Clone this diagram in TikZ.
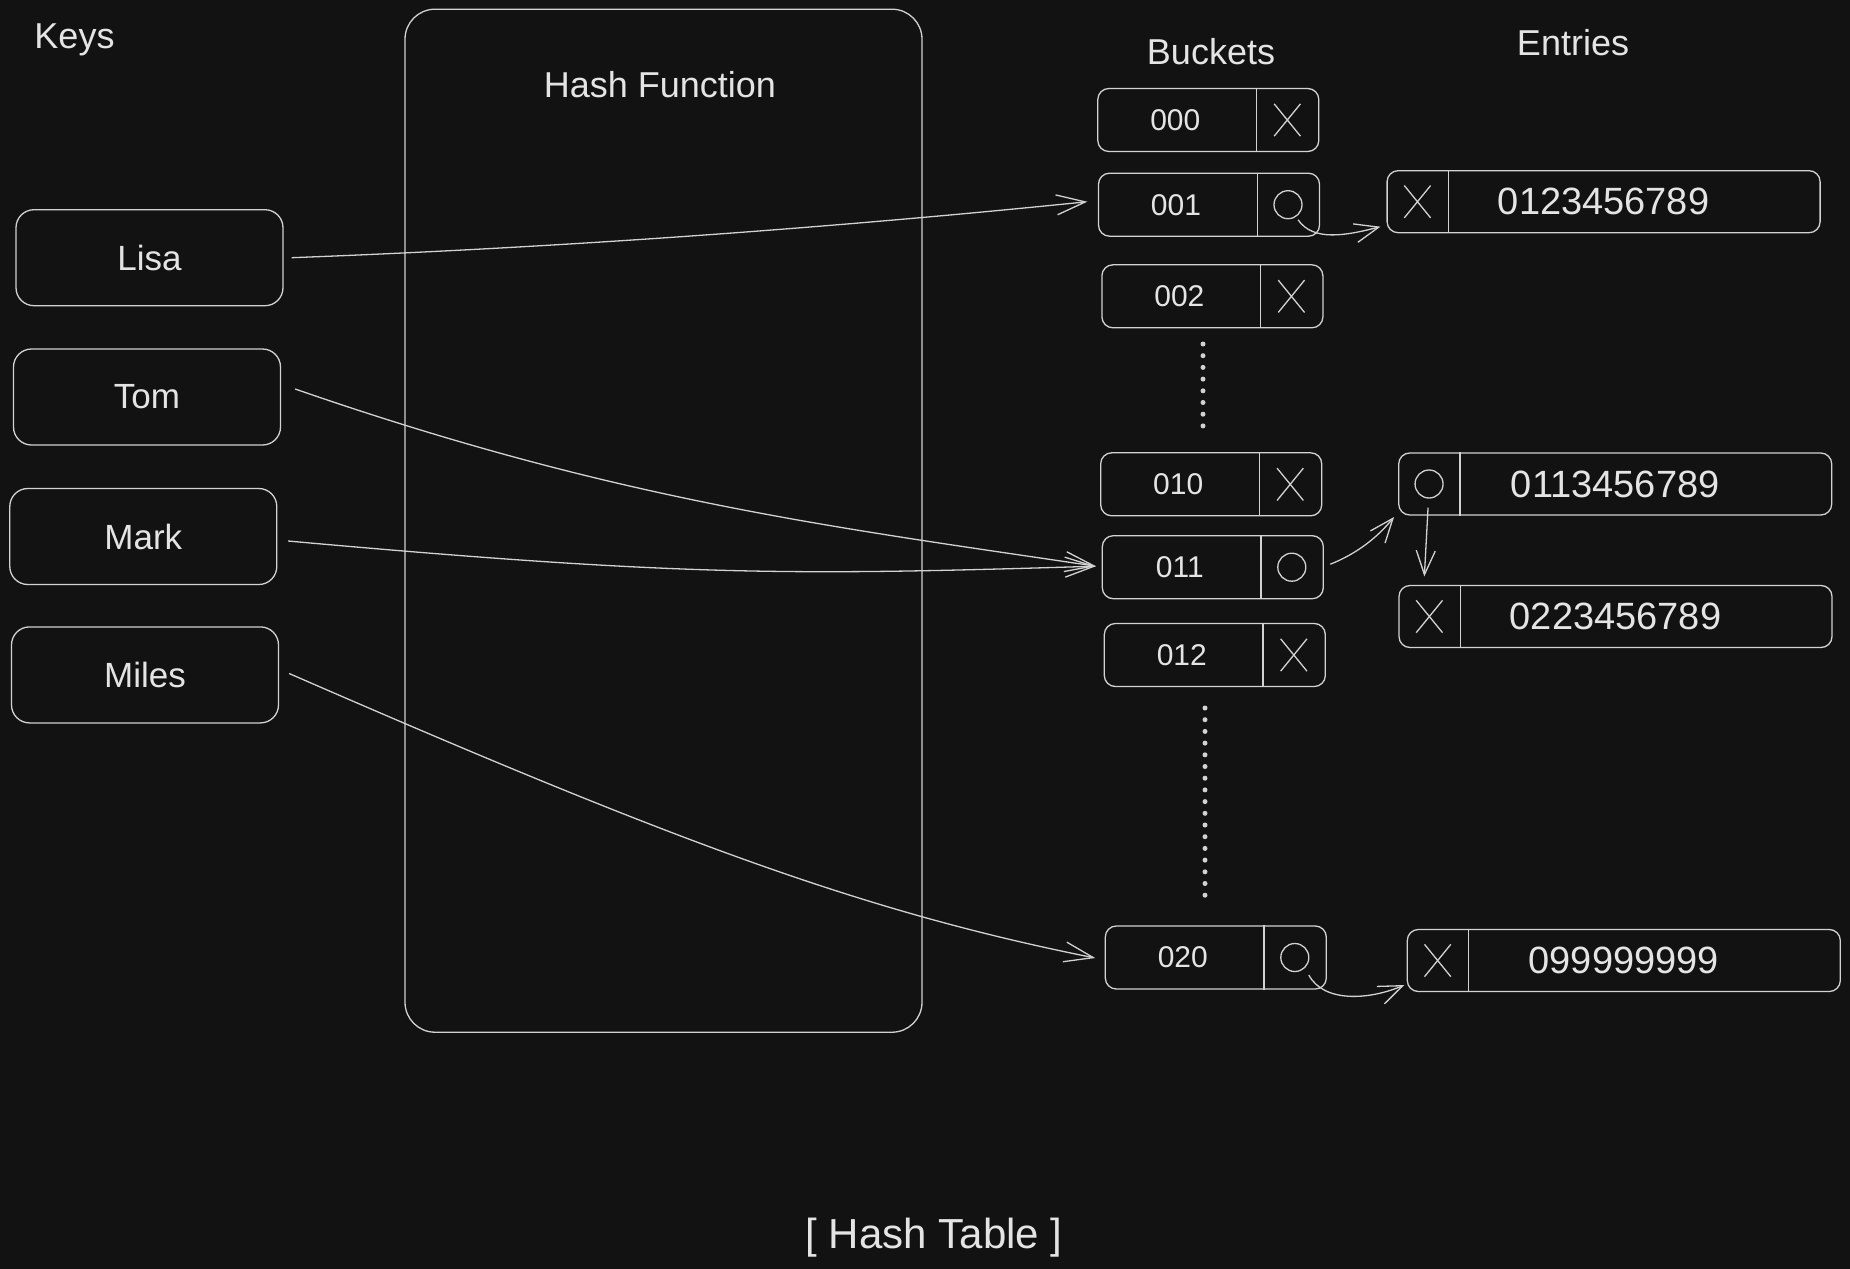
\documentclass[tikz,border=0pt]{standalone}
\usepackage{fontspec}
\setmainfont{Liberation Sans}
\usetikzlibrary{arrows.meta,shapes.misc,calc}
\definecolor{bg}{HTML}{121212}
\definecolor{ink}{HTML}{D2D2D2}
\definecolor{txt}{HTML}{E4E4E4}
\tikzset{
  inkline/.style={draw=ink, line width=1.3pt},
  hdr/.style={text=txt, anchor=base, inner sep=0pt, font=\fontsize{36}{40}\selectfont},
  keybox/.style={inkline, rounded corners=18pt, minimum width=267pt, minimum height=96pt, text=txt, font=\fontsize{35}{39}\selectfont},
  hashbox/.style={inkline, rounded corners=30pt, minimum width=517pt, minimum height=1023pt},
  bucketbox/.style={inkline, rounded corners=11pt, minimum width=221pt, minimum height=63pt, inner sep=0pt},
  btext/.style={text=txt, inner sep=0pt, font=\fontsize{30}{34}\selectfont},
  entrybox/.style={inkline, rounded corners=11pt, minimum width=433pt, minimum height=62pt, inner sep=0pt, text=txt, font=\fontsize{38}{42}\selectfont},
  xmark/.style={inkline, cross out, inner sep=0pt, minimum width=25pt, minimum height=31pt},
  omark/.style={inkline, circle, inner sep=0pt, minimum size=28pt},
  conn/.style={inkline, -{Straight Barb[length=29pt,width=20pt,line width=1.3pt]}},
  sconn/.style={inkline, -{Straight Barb[length=24pt,width=19pt,line width=1.3pt]}},
  dotline/.style={draw=ink, line width=5pt, line cap=round, dash pattern=on 0pt off 11.7pt}
}
\newcommand\mkbucket[5]{%
  \node[bucketbox] (#1) at (#2,#3) {};
  \draw[inkline] ($(#1.north east)+(-63,0)$) -- ($(#1.south east)+(-63,0)$);
  \node[btext] (#1-l) at ($(#1.center)+(-33,0)$) {#4};
  \node[#5] (#1-s) at ($(#1.center)+(79,0)$) {};
}
\newcommand\mkentry[5]{%
  \node[entrybox] (#1) at (#2,#3) {#4};
  \draw[inkline] ($(#1.north west)+(62,0)$) -- ($(#1.south west)+(62,0)$);
  \node[#5] (#1-s) at ($(#1.west)+(31,0)$) {};
}
\begin{document}
\begin{tikzpicture}[x=1pt,y=-1pt]
\useasboundingbox (0,0) rectangle (1850,1269);
\fill[bg] (0,0) rectangle (1850,1269);

% headers
\node[hdr] (hkeys) at (74.5,48) {Keys};
\node[hdr] (hbuckets) at (1211,64) {Buckets};
\node[hdr] (hentries) at (1573,55) {Entries};
\node[hdr, font=\fontsize{42}{46}\selectfont] (htable) at (934,1248) {[ Hash Table ]};

% hash function
\node[hashbox] (hash) at (663.5,520.7) {};
\node[hdr] (hashlbl) at (660,97) {Hash Function};

% keys
\node[keybox] (Lisa) at (149.5,257.7) {Lisa};
\node[keybox] (Tom) at (147,397) {Tom};
\node[keybox] (Mark) at (143.3,536.5) {Mark};
\node[keybox] (Miles) at (145,674.9) {Miles};

% buckets
\mkbucket{b000}{1208.3}{120}{000}{xmark}
\mkbucket{b001}{1209}{204.7}{001}{omark}
\mkbucket{b002}{1212.4}{296.3}{002}{xmark}
\mkbucket{b010}{1211.2}{484.3}{010}{xmark}
\mkbucket{b011}{1212.8}{567.2}{011}{omark}
\mkbucket{b012}{1214.8}{655}{012}{xmark}
\mkbucket{b020}{1215.8}{957.5}{020}{omark}

% dotted gaps
\coordinate (dA1) at (1203,344);
\coordinate (dA2) at (1203,428);
\coordinate (dB1) at (1205,708);
\coordinate (dB2) at (1205,898);
\draw[dotline] (dA1) -- (dA2);
\draw[dotline] (dB1) -- (dB2);

% entries
\mkentry{E1}{1603.6}{201.7}{0123456789}{xmark}
\mkentry{E2}{1615.2}{484}{0113456789}{omark}
\mkentry{E3}{1615.5}{616.5}{0223456789}{xmark}
\mkentry{E4}{1623.8}{960.5}{099999999}{xmark}

% key -> bucket arrows
\draw[conn] ($(Lisa.east)+(8,0)$) .. controls +(265,-10) and +(-265,27) .. ($(b001.west)+(-10.5,-3)$);
\draw[conn] ($(Tom.east)+(14,-8)$) .. controls +(320,111) and +(-270,-40) .. ($(b011.west)+(-5.7,-1)$);
\draw[conn] ($(Mark.east)+(10.6,4.5)$) .. controls +(400,36) and +(-300,9) .. ($(b011.west)+(-5.7,-1)$);
\draw[conn] ($(Miles.east)+(10,-1.4)$) .. controls +(390,170) and +(-230,-46) .. ($(b020.west)+(-9.4,0.5)$);

% bucket -> entry arrows
\draw[sconn] ($(b001-s.center)+(10,15)$) .. controls +(15,22) and +(-35,9) .. ($(E1.west)+(-6,25)$);
\draw[sconn] ($(b011.east)+(6.4,-3)$) .. controls +(25,-10) and +(-18,22) .. ($(E2.west)+(-4,33)$);
\draw[sconn] ($(E2-s.south)+(-1,9)$) -- ($(E3.north west)+(26,-8.5)$);
\draw[sconn] ($(b020-s.center)+(14,17.5)$) .. controls +(15,28) and +(-35,15) .. ($(E4.west)+(-2.3,24.5)$);
\end{tikzpicture}
\end{document}
